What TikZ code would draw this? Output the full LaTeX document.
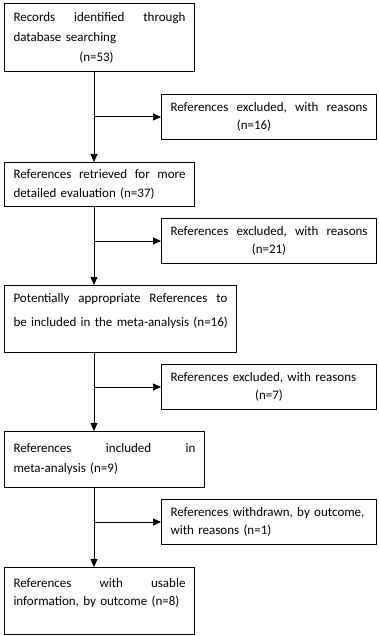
\documentclass[tikz,border=0pt]{standalone}
\usepackage{fontspec}
\setmainfont{Carlito}
\usetikzlibrary{positioning, arrows.meta}

\begin{document}
\begin{tikzpicture}[
    x=1pt, y=1pt,
    font=\fontsize{13}{18.5}\selectfont,
    stage/.style={draw, line width=1pt, rectangle, anchor=north west, inner xsep=9pt, inner ysep=0pt, align=left},
    excl/.style={stage, text width=197pt, minimum height=45pt},
    flow/.style={line width=1pt, -{Triangle[length=8pt, width=7pt]}}
]
    \useasboundingbox (0,0) rectangle (379,-636);

    % --- Main stages ---
    \node[stage, text width=172pt, minimum height=68pt] (records) at (4,-3) {Records\hfill identified\hfill through\\[1.5pt] database searching\\[1.5pt] \mbox{}\hfill(n=53)\hspace{6pt}\hfill\mbox{}};
    \node[stage, text width=172pt, minimum height=44pt] (retrieved) at (4,-162) {References\hfill retrieved\hfill for\hfill more\\ detailed evaluation (n=37)};
    \node[stage, text width=214pt, minimum height=67pt] (potential) at (4,-285) {Potentially\hfill appropriate\hfill References\hfill to\\[6pt] \mbox{be included in the meta-analysis (n=16)}\\ \mbox{}};
    \node[stage, text width=182pt, minimum height=56pt] (included) at (4,-431) {References\hfill included\hfill in\\[1.5pt] meta-analysis (n=9)};
    \node[stage, text width=172pt, minimum height=67pt] (usable) at (4,-567) {References\hfill with\hfill usable\\ information, by outcome (n=8)\\ \mbox{}};

    % --- Exclusions ---
    \node[excl] (excl1) at (161,-94) {References\hfill excluded,\hfill with\hfill reasons\\ \mbox{}\hfill(n=16)\hspace{30pt}\hfill\mbox{}};
    \node[excl] (excl2) at (161,-218) {References\hfill excluded,\hfill with\hfill reasons\\ \mbox{}\hfill(n=21)\hfill\mbox{}};
    \node[excl] (excl3) at (161,-364) {References excluded, with reasons\\ \mbox{}\hfill(n=7)\hfill\mbox{}};
    \node[excl] (excl4) at (161,-499) {References withdrawn, by outcome,\\ with reasons (n=1)};

    % --- Spine and arrows ---
    \coordinate (spine) at (94,0);
    \draw[flow] (records.south -| spine) -- (retrieved.north -| spine);
    \draw[flow] (retrieved.south -| spine) -- (potential.north -| spine);
    \draw[flow] (potential.south -| spine) -- (included.north -| spine);
    \draw[flow] (included.south -| spine) -- (usable.north -| spine);

    \draw[flow] (spine |- excl1.west) -- (excl1.west);
    \draw[flow] (spine |- excl2.west) -- (excl2.west);
    \draw[flow] (spine |- excl3.west) -- (excl3.west);
    \draw[flow] (spine |- excl4.west) -- (excl4.west);

\end{tikzpicture}
\end{document}
